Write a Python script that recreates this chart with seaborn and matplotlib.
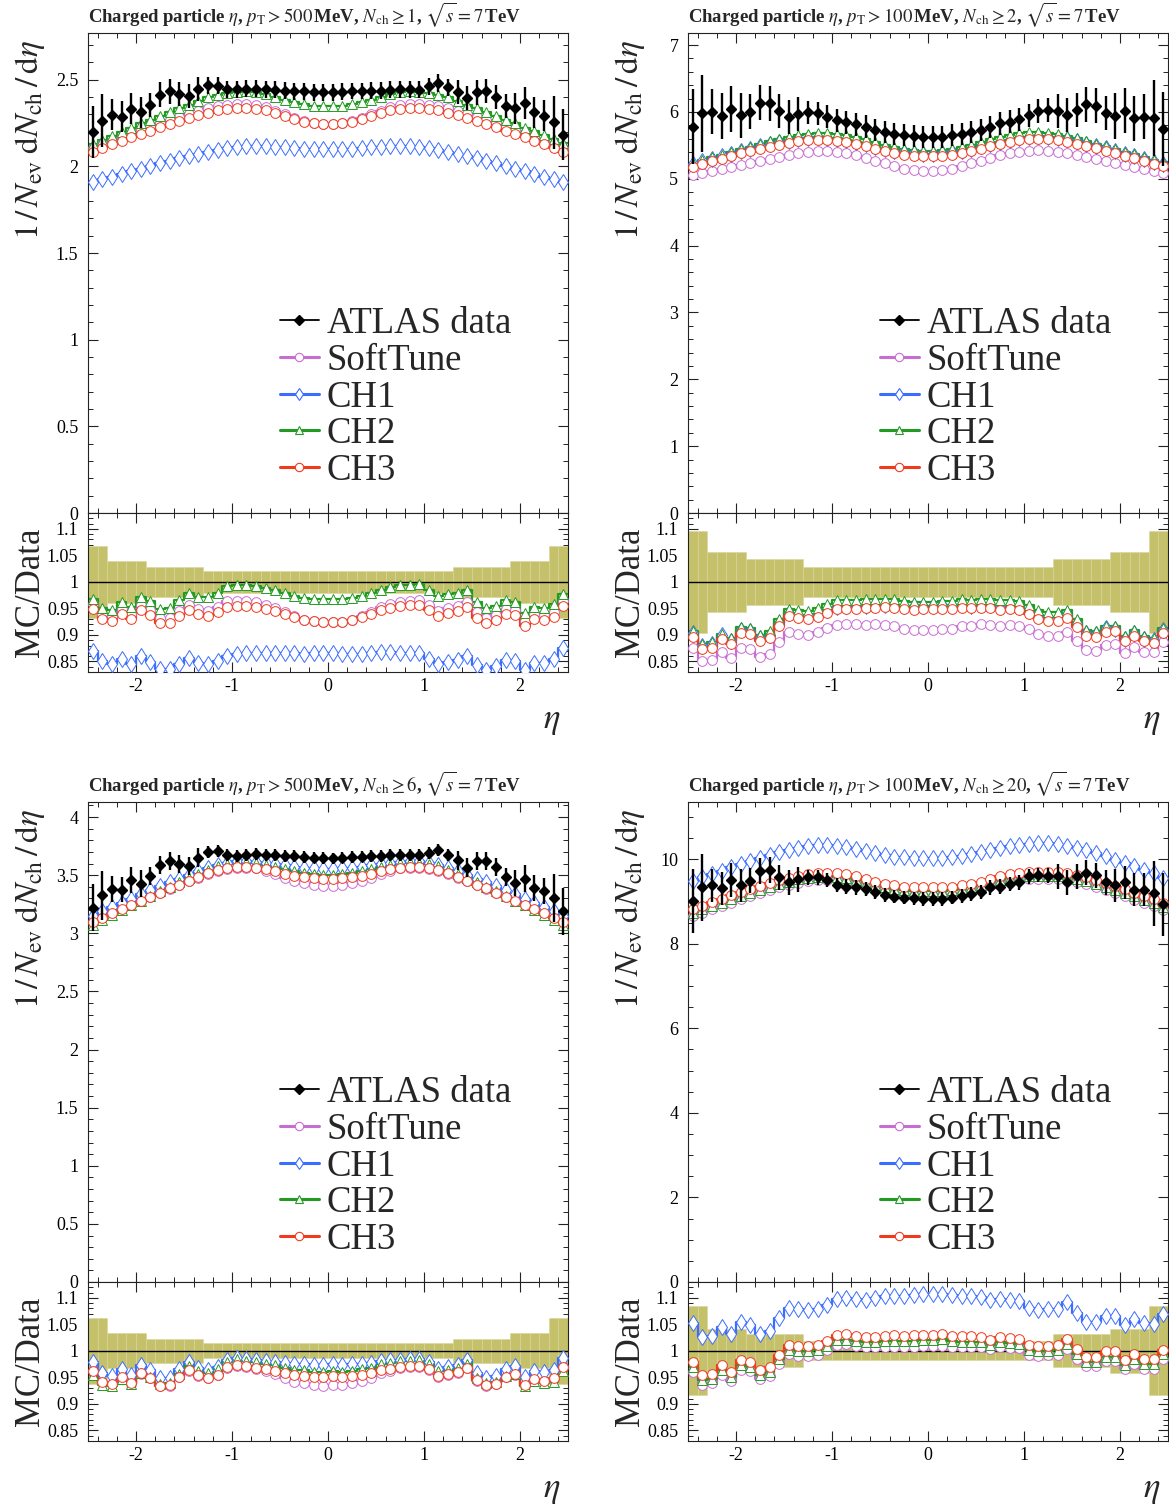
import numpy as np
import pandas as pd
import matplotlib
matplotlib.use("Agg")
import matplotlib.pyplot as plt
from matplotlib.lines import Line2D
from matplotlib.ticker import MultipleLocator, FuncFormatter
import seaborn as sns

# ---------------------------------------------------------------- binning
eta_edges = np.round(np.linspace(-2.5, 2.5, 51), 2)
eta_mid = 0.5 * (eta_edges[:-1] + eta_edges[1:])

generators = ["SoftTune", "CH1", "CH2", "CH3"]

# ------------------------------------------- pT > 500 MeV, Nch >= 1
data_500_1 = [2.198, 2.265, 2.298, 2.288, 2.333, 2.312, 2.356, 2.415, 2.433, 2.419,
              2.408, 2.446, 2.469, 2.465, 2.446, 2.446, 2.448, 2.448, 2.446, 2.442,
              2.437, 2.433, 2.433, 2.429, 2.427, 2.427, 2.431, 2.435, 2.435, 2.437,
              2.438, 2.442, 2.446, 2.446, 2.442, 2.462, 2.481, 2.456, 2.431, 2.394,
              2.427, 2.435, 2.400, 2.350, 2.335, 2.365, 2.312, 2.292, 2.254, 2.183]
relerr_500_1 = [0.068] * 2 + [0.039] * 4 + [0.029] * 6 + [0.020] * 26 + [0.029] * 6 + [0.039] * 4 + [0.068] * 2
softtune_500_1 = [2.105, 2.127, 2.149, 2.170, 2.191, 2.211, 2.231, 2.250, 2.269, 2.287,
                  2.304, 2.320, 2.335, 2.347, 2.356, 2.360, 2.360, 2.354, 2.341, 2.322,
                  2.300, 2.278, 2.260, 2.248, 2.243, 2.243, 2.248, 2.260, 2.278, 2.300,
                  2.322, 2.341, 2.354, 2.360, 2.360, 2.356, 2.347, 2.335, 2.320, 2.304,
                  2.287, 2.269, 2.250, 2.231, 2.211, 2.191, 2.170, 2.149, 2.127, 2.105]
ch1_500_1 = [1.910, 1.925, 1.941, 1.957, 1.972, 1.987, 2.002, 2.017, 2.032, 2.046,
             2.060, 2.073, 2.085, 2.096, 2.106, 2.114, 2.118, 2.119, 2.117, 2.114,
             2.110, 2.106, 2.103, 2.101, 2.100, 2.100, 2.101, 2.103, 2.106, 2.110,
             2.114, 2.117, 2.119, 2.118, 2.114, 2.106, 2.096, 2.085, 2.073, 2.060,
             2.046, 2.032, 2.017, 2.002, 1.987, 1.972, 1.957, 1.941, 1.925, 1.910]
ch2_500_1 = [2.128, 2.153, 2.178, 2.201, 2.224, 2.248, 2.270, 2.292, 2.315, 2.336,
             2.357, 2.378, 2.398, 2.414, 2.425, 2.432, 2.433, 2.430, 2.417, 2.403,
             2.385, 2.370, 2.360, 2.351, 2.347, 2.347, 2.351, 2.360, 2.370, 2.385,
             2.403, 2.417, 2.430, 2.433, 2.432, 2.425, 2.414, 2.398, 2.378, 2.357,
             2.336, 2.315, 2.292, 2.270, 2.248, 2.224, 2.202, 2.180, 2.158, 2.135]
ch3_500_1 = [2.085, 2.106, 2.127, 2.148, 2.168, 2.188, 2.207, 2.226, 2.245, 2.263,
             2.280, 2.296, 2.311, 2.323, 2.332, 2.337, 2.338, 2.334, 2.323, 2.307,
             2.290, 2.273, 2.259, 2.249, 2.244, 2.244, 2.249, 2.259, 2.273, 2.290,
             2.307, 2.323, 2.334, 2.338, 2.337, 2.332, 2.323, 2.311, 2.296, 2.280,
             2.263, 2.245, 2.226, 2.207, 2.188, 2.168, 2.148, 2.127, 2.106, 2.085]

# ------------------------------------------- pT > 100 MeV, Nch >= 2
data_100_2 = [5.78, 5.98, 6.005, 5.94, 6.045, 5.95, 6.005, 6.14, 6.13, 6.015,
              5.92, 5.965, 5.995, 5.98, 5.93, 5.875, 5.845, 5.815, 5.78, 5.73,
              5.695, 5.665, 5.65, 5.64, 5.63, 5.63, 5.63, 5.65, 5.665, 5.705,
              5.73, 5.775, 5.83, 5.855, 5.89, 5.95, 6.015, 6.03, 6.015, 5.95,
              6.03, 6.115, 6.09, 5.98, 5.94, 6.02, 5.905, 5.93, 5.905, 5.74]
relerr_100_2 = [0.096] * 2 + [0.057] * 4 + [0.043] * 6 + [0.029] * 26 + [0.043] * 6 + [0.057] * 4 + [0.096] * 2
softtune_100_2 = [5.06, 5.09, 5.12, 5.15, 5.18, 5.21, 5.24, 5.27, 5.30, 5.33,
                  5.36, 5.38, 5.40, 5.41, 5.41, 5.40, 5.38, 5.35, 5.31, 5.27,
                  5.23, 5.19, 5.15, 5.125, 5.115, 5.115, 5.125, 5.15, 5.19, 5.23,
                  5.27, 5.31, 5.35, 5.38, 5.405, 5.42, 5.425, 5.42, 5.405, 5.385,
                  5.36, 5.33, 5.30, 5.27, 5.24, 5.21, 5.18, 5.15, 5.12, 5.09]
ch1_100_2 = [5.22, 5.26, 5.30, 5.34, 5.37, 5.41, 5.45, 5.485, 5.515, 5.545,
             5.57, 5.595, 5.61, 5.62, 5.615, 5.60, 5.58, 5.55, 5.52, 5.48,
             5.45, 5.42, 5.395, 5.38, 5.375, 5.375, 5.38, 5.395, 5.42, 5.45,
             5.485, 5.52, 5.555, 5.585, 5.61, 5.625, 5.635, 5.63, 5.615, 5.59,
             5.56, 5.525, 5.49, 5.455, 5.415, 5.375, 5.335, 5.295, 5.255, 5.215]
ch2_100_2 = [5.24, 5.28, 5.32, 5.36, 5.40, 5.44, 5.48, 5.52, 5.56, 5.59,
             5.62, 5.65, 5.67, 5.68, 5.68, 5.67, 5.65, 5.62, 5.59, 5.55,
             5.51, 5.48, 5.45, 5.43, 5.42, 5.42, 5.43, 5.45, 5.48, 5.51,
             5.55, 5.59, 5.63, 5.66, 5.68, 5.695, 5.70, 5.69, 5.67, 5.64,
             5.605, 5.565, 5.525, 5.485, 5.445, 5.405, 5.365, 5.325, 5.285, 5.245]
ch3_100_2 = [5.18, 5.22, 5.26, 5.30, 5.34, 5.38, 5.42, 5.45, 5.48, 5.51,
             5.54, 5.56, 5.575, 5.58, 5.58, 5.57, 5.55, 5.52, 5.49, 5.45,
             5.42, 5.39, 5.36, 5.345, 5.34, 5.34, 5.345, 5.36, 5.39, 5.42,
             5.45, 5.49, 5.525, 5.555, 5.575, 5.59, 5.595, 5.59, 5.575, 5.55,
             5.52, 5.49, 5.455, 5.42, 5.385, 5.345, 5.305, 5.265, 5.225, 5.185]

# ------------------------------------------- pT > 500 MeV, Nch >= 6
data_500_6 = [3.219, 3.328, 3.385, 3.377, 3.457, 3.428, 3.494, 3.586, 3.621, 3.595,
              3.581, 3.650, 3.701, 3.707, 3.673, 3.667, 3.678, 3.684, 3.678, 3.673,
              3.667, 3.664, 3.655, 3.652, 3.650, 3.644, 3.652, 3.658, 3.661, 3.667,
              3.667, 3.673, 3.678, 3.678, 3.673, 3.687, 3.716, 3.678, 3.629, 3.566,
              3.621, 3.621, 3.572, 3.486, 3.434, 3.471, 3.391, 3.362, 3.305, 3.190]
relerr_500_6 = [0.063] * 2 + [0.033] * 4 + [0.022] * 6 + [0.014] * 26 + [0.022] * 6 + [0.033] * 4 + [0.063] * 2
softtune_500_6 = [3.095, 3.134, 3.172, 3.207, 3.243, 3.280, 3.314, 3.348, 3.383, 3.416,
                  3.448, 3.480, 3.511, 3.536, 3.553, 3.564, 3.565, 3.560, 3.536, 3.511,
                  3.479, 3.451, 3.433, 3.417, 3.410, 3.410, 3.417, 3.433, 3.451, 3.479,
                  3.511, 3.536, 3.560, 3.565, 3.564, 3.553, 3.536, 3.511, 3.480, 3.448,
                  3.416, 3.383, 3.348, 3.314, 3.280, 3.243, 3.207, 3.172, 3.134, 3.095]
ch1_500_6 = [3.150, 3.189, 3.227, 3.262, 3.298, 3.335, 3.369, 3.403, 3.438, 3.471,
             3.503, 3.535, 3.566, 3.591, 3.608, 3.619, 3.620, 3.618, 3.608, 3.597,
             3.584, 3.572, 3.565, 3.558, 3.555, 3.555, 3.558, 3.565, 3.572, 3.584,
             3.597, 3.608, 3.618, 3.620, 3.619, 3.608, 3.591, 3.566, 3.535, 3.503,
             3.471, 3.438, 3.403, 3.369, 3.335, 3.298, 3.262, 3.227, 3.189, 3.150]
ch2_500_6 = [3.070, 3.114, 3.159, 3.199, 3.240, 3.282, 3.322, 3.361, 3.401, 3.438,
             3.476, 3.513, 3.548, 3.577, 3.596, 3.608, 3.610, 3.606, 3.590, 3.573,
             3.551, 3.533, 3.521, 3.510, 3.505, 3.505, 3.510, 3.521, 3.533, 3.551,
             3.573, 3.590, 3.606, 3.610, 3.608, 3.596, 3.577, 3.548, 3.513, 3.476,
             3.438, 3.401, 3.361, 3.322, 3.282, 3.240, 3.199, 3.159, 3.114, 3.070]
ch3_500_6 = [3.095, 3.134, 3.173, 3.209, 3.245, 3.282, 3.316, 3.351, 3.386, 3.419,
             3.452, 3.485, 3.515, 3.541, 3.558, 3.569, 3.570, 3.566, 3.551, 3.535,
             3.514, 3.497, 3.485, 3.475, 3.470, 3.470, 3.475, 3.485, 3.497, 3.514,
             3.535, 3.551, 3.566, 3.570, 3.569, 3.558, 3.541, 3.515, 3.485, 3.452,
             3.419, 3.386, 3.351, 3.316, 3.282, 3.245, 3.209, 3.173, 3.134, 3.095]

# ------------------------------------------- pT > 100 MeV, Nch >= 20
data_100_20 = [9.01, 9.33, 9.38, 9.31, 9.51, 9.38, 9.49, 9.72, 9.74, 9.565,
               9.45, 9.525, 9.565, 9.565, 9.50, 9.39, 9.35, 9.33, 9.29, 9.225,
               9.155, 9.115, 9.09, 9.07, 9.05, 9.05, 9.05, 9.09, 9.13, 9.17,
               9.225, 9.33, 9.35, 9.41, 9.45, 9.59, 9.62, 9.605, 9.59, 9.45,
               9.59, 9.68, 9.62, 9.45, 9.38, 9.45, 9.27, 9.27, 9.19, 8.93]
relerr_100_20 = [0.084] * 2 + [0.042] * 4 + [0.031] * 6 + [0.018] * 26 + [0.031] * 6 + [0.042] * 4 + [0.084] * 2
softtune_100_20 = [8.65, 8.73, 8.81, 8.89, 8.97, 9.05, 9.13, 9.20, 9.27, 9.33,
                   9.39, 9.44, 9.48, 9.50, 9.51, 9.50, 9.47, 9.42, 9.36, 9.29,
                   9.23, 9.19, 9.16, 9.14, 9.135, 9.135, 9.14, 9.16, 9.19, 9.23,
                   9.29, 9.36, 9.42, 9.47, 9.50, 9.52, 9.53, 9.53, 9.52, 9.49,
                   9.45, 9.40, 9.34, 9.27, 9.20, 9.12, 9.04, 8.96, 8.88, 8.79]
ch1_100_20 = [9.49, 9.57, 9.65, 9.73, 9.81, 9.89, 9.96, 10.03, 10.10, 10.16,
              10.22, 10.27, 10.31, 10.33, 10.33, 10.31, 10.28, 10.24, 10.19, 10.14,
              10.10, 10.06, 10.04, 10.025, 10.02, 10.02, 10.03, 10.05, 10.08, 10.12,
              10.17, 10.22, 10.27, 10.31, 10.34, 10.36, 10.37, 10.37, 10.35, 10.32,
              10.27, 10.21, 10.14, 10.07, 9.99, 9.91, 9.83, 9.75, 9.66, 9.56]
ch2_100_20 = [8.73, 8.81, 8.89, 8.97, 9.05, 9.13, 9.21, 9.28, 9.35, 9.41,
              9.47, 9.52, 9.56, 9.58, 9.59, 9.58, 9.55, 9.50, 9.44, 9.38,
              9.33, 9.29, 9.26, 9.245, 9.24, 9.24, 9.245, 9.26, 9.29, 9.33,
              9.38, 9.44, 9.50, 9.55, 9.58, 9.60, 9.61, 9.61, 9.60, 9.57,
              9.53, 9.48, 9.42, 9.35, 9.28, 9.20, 9.12, 9.04, 8.96, 8.87]
ch3_100_20 = [8.82, 8.90, 8.98, 9.06, 9.14, 9.22, 9.30, 9.37, 9.44, 9.50,
              9.56, 9.61, 9.65, 9.67, 9.68, 9.67, 9.64, 9.59, 9.53, 9.47,
              9.42, 9.38, 9.35, 9.335, 9.33, 9.33, 9.335, 9.35, 9.38, 9.42,
              9.47, 9.53, 9.59, 9.64, 9.67, 9.69, 9.70, 9.70, 9.69, 9.66,
              9.62, 9.57, 9.51, 9.44, 9.37, 9.29, 9.21, 9.13, 9.05, 8.95]

titles = [
    r"Charged particle $\eta$, $p_\mathrm{T} > 500\,$MeV, $N_\mathrm{ch} \geq 1$, $\sqrt{s} = 7\,$TeV",
    r"Charged particle $\eta$, $p_\mathrm{T} > 100\,$MeV, $N_\mathrm{ch} \geq 2$, $\sqrt{s} = 7\,$TeV",
    r"Charged particle $\eta$, $p_\mathrm{T} > 500\,$MeV, $N_\mathrm{ch} \geq 6$, $\sqrt{s} = 7\,$TeV",
    r"Charged particle $\eta$, $p_\mathrm{T} > 100\,$MeV, $N_\mathrm{ch} \geq 20$, $\sqrt{s} = 7\,$TeV",
]

# ---------------------------------------------------------------- styling
gen_colors = ["#c86dd2", "#3b6dff", "#239b23", "#f03a1c"]
gen_markers = ["o", "d", "^", "o"]
gen_msize = [7.0, 8.6, 7.2, 7.0]
band_color = "#c5c16b"

sns.set_theme(style="ticks")
plt.rcParams.update({
    "font.family": ["Liberation Serif", "DejaVu Serif"],
    "mathtext.fontset": "stix",
    "axes.unicode_minus": False,
    "axes.linewidth": 0.8,
    "axes.edgecolor": "#222222",
    "xtick.direction": "in",
    "ytick.direction": "in",
    "xtick.top": True,
    "ytick.right": True,
    "xtick.major.size": 7,
    "ytick.major.size": 7,
    "xtick.minor.size": 3.5,
    "ytick.minor.size": 3.5,
    "xtick.major.width": 0.8,
    "ytick.major.width": 0.8,
    "xtick.minor.width": 0.7,
    "ytick.minor.width": 0.7,
    "xtick.color": "#222222",
    "ytick.color": "#222222",
    "xtick.labelcolor": "black",
    "ytick.labelcolor": "black",
})

fig = plt.figure(figsize=(11.69, 15.08), dpi=100)

W = 480 / 1169
H_MAIN = 480 / 1508
H_RATIO = 159 / 1508
lefts = [88 / 1169, 688 / 1169]
main_bottoms = [1 - 513 / 1508, 1 - 1282 / 1508]

fmt_g = FuncFormatter(lambda v, p: "%g" % round(v, 4))


def step_hist(a, values, color):
    """Histogram outline of per-bin values, one step per eta bin."""
    frame = pd.DataFrame({"eta": eta_mid, "val": values})
    sns.histplot(data=frame, x="eta", weights="val", binwidth=0.1,
                 binrange=(-2.5, 2.5), element="step", fill=False,
                 color=color, linewidth=1.6, ax=a, zorder=2)


panels = [
    (titles[0], data_500_1, relerr_500_1,
     [softtune_500_1, ch1_500_1, ch2_500_1, ch3_500_1], 2.77, 0.5, 0.1),
    (titles[1], data_100_2, relerr_100_2,
     [softtune_100_2, ch1_100_2, ch2_100_2, ch3_100_2], 7.18, 1.0, 0.2),
    (titles[2], data_500_6, relerr_500_6,
     [softtune_500_6, ch1_500_6, ch2_500_6, ch3_500_6], 4.13, 0.5, 0.1),
    (titles[3], data_100_20, relerr_100_20,
     [softtune_100_20, ch1_100_20, ch2_100_20, ch3_100_20], 11.35, 2.0, 0.5),
]

for k, (title, data, relerr, mc_sets, ytop, ymaj, ymin) in enumerate(panels):
    left = lefts[k % 2]
    bottom = main_bottoms[k // 2]
    ax = fig.add_axes([left, bottom, W, H_MAIN])
    axr = fig.add_axes([left, bottom - H_RATIO, W, H_RATIO], sharex=ax)

    data = np.asarray(data)
    relerr = np.asarray(relerr)

    # data uncertainty band in the ratio
    axr.bar(eta_mid, 2 * relerr, bottom=1 - relerr, width=0.1, color=band_color,
            edgecolor="#d9d6a2", linewidth=0.4, zorder=1)
    axr.axhline(1.0, color="black", lw=1.0, zorder=1.5)

    for vals, col, mk, ms in zip(mc_sets, gen_colors, gen_markers, gen_msize):
        vals = np.asarray(vals)
        ratio = vals / data
        for a, y in ((ax, vals), (axr, ratio)):
            step_hist(a, y, col)
            a.plot(eta_mid, y, ls="none", marker=mk, ms=ms, mfc="white",
                   mec=col, mew=0.7, zorder=3)

    ax.errorbar(eta_mid, data, yerr=data * relerr, fmt="D", color="black",
                ms=5.2, elinewidth=1.7, capsize=0, zorder=5)

    # axes ranges and ticks
    ax.set_xlim(-2.5, 2.5)
    ax.set_ylim(0, ytop)
    axr.set_ylim(0.83, 1.13)
    ax.xaxis.set_major_locator(MultipleLocator(1))
    ax.xaxis.set_minor_locator(MultipleLocator(0.2))
    ax.yaxis.set_major_locator(MultipleLocator(ymaj))
    ax.yaxis.set_minor_locator(MultipleLocator(ymin))
    axr.yaxis.set_major_locator(MultipleLocator(0.05))
    axr.yaxis.set_minor_locator(MultipleLocator(0.01))
    ax.yaxis.set_major_formatter(fmt_g)
    axr.yaxis.set_major_formatter(fmt_g)
    axr.xaxis.set_major_formatter(fmt_g)
    for a in (ax, axr):
        a.tick_params(which="both", direction="in", top=True, right=True)
        a.tick_params(axis="x", labelsize=13, pad=4)
        a.tick_params(axis="y", labelsize=13, pad=7)
    ax.tick_params(labelbottom=False)

    ax.set_xlabel("")
    ax.set_ylabel(r"$1\,/\,N_\mathrm{ev}\;\mathrm{d}N_\mathrm{ch}\,/\,\mathrm{d}\eta$",
                  fontsize=24, loc="top")
    ax.yaxis.set_label_coords(-0.085, 0.985)
    axr.set_ylabel("MC/Data", fontsize=25)
    axr.yaxis.set_label_coords(-0.085, 0.5)
    axr.set_xlabel(r"$\eta$", fontsize=25, loc="right")
    axr.xaxis.set_label_coords(0.985, -0.2)

    fig.text(left, main_bottoms[k // 2] + H_MAIN + 18 / 1508, title, fontsize=13.5,
             fontweight="bold", ha="left", va="center")

    handles = [Line2D([], [], color="black", lw=1.3, marker="D", ms=5)]
    for col, mk in zip(gen_colors, gen_markers):
        handles.append(Line2D([], [], color=col, lw=2.2, marker=mk, ms=6,
                              mfc="white", mec=col, mew=0.8))
    ax.legend(handles, ["ATLAS data"] + generators, loc="upper left",
              bbox_to_anchor=(0.4, 0.43), frameon=False, fontsize=26.5,
              handlelength=1.05, handletextpad=0.22, labelspacing=0.06,
              borderpad=0, borderaxespad=0)

fig.savefig("out.png", dpi=100)
